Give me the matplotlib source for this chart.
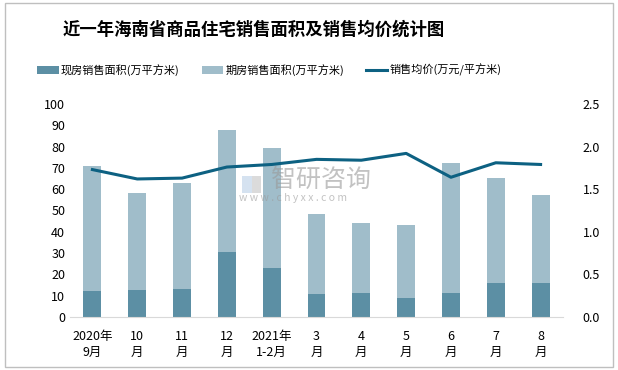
import matplotlib.pyplot as plt
import matplotlib.patches as patches
import numpy as np

plt.rcParams['font.family'] = ['Noto Sans CJK SC', 'DejaVu Sans']

# data
months = ['2020年\n9月', '10\n月', '11\n月', '12\n月', '2021年\n1-2月', '3\n月',
          '4\n月', '5\n月', '6\n月', '7\n月', '8\n月']
spot_area = [12.3, 12.8, 13.3, 30.6, 23.1, 10.9, 11.4, 9.0, 11.4, 16.1, 16.1]
total_area = [70.9, 58.3, 63.0, 87.8, 79.4, 48.4, 44.2, 43.3, 72.3, 65.3, 57.3]
presale_area = [t - s for t, s in zip(total_area, spot_area)]
avg_price = [1.73, 1.62, 1.63, 1.76, 1.79, 1.85, 1.84, 1.92, 1.64, 1.81, 1.79]

c_dark = '#5c8fa4'
c_light = '#a0bdca'
c_line = '#0d6182'

fig = plt.figure(figsize=(6.18, 3.70), dpi=100)
fig.patches.append(patches.Rectangle((0.008, 0.008), 0.984, 0.984, transform=fig.transFigure,
                                     fill=False, edgecolor='#bfbfbf', linewidth=1))

ax = fig.add_axes([0.1133, 0.1432, 0.7977, 0.5758])
x = np.arange(len(months))
ax.bar(x, spot_area, width=0.4, color=c_dark, label='现房销售面积(万平方米)', zorder=2)
ax.bar(x, presale_area, width=0.4, bottom=spot_area, color=c_light,
       label='期房销售面积(万平方米)', zorder=2)
ax.set_ylim(0, 100)
ax.set_yticks(range(0, 101, 10))
ax.set_xlim(-0.5, len(months) - 0.5)
ax.set_xticks(x)
ax.set_xticklabels(months, fontsize=9, linespacing=1.3)
for s in ['top', 'left', 'right']:
    ax.spines[s].set_visible(False)
ax.spines['bottom'].set_color('#d9d9d9')
ax.tick_params(axis='both', length=0, labelsize=9, colors='black')
ax.tick_params(axis='x', pad=9)

ax2 = ax.twinx()
ax2.plot(x, avg_price, color=c_line, linewidth=2.2, label='销售均价(万元/平方米)', zorder=3)
ax2.set_ylim(0, 2.5)
ax2.set_yticks(np.arange(0, 2.51, 0.5))
ax2.set_yticklabels([f'{v:.1f}' for v in np.arange(0, 2.51, 0.5)])
ax2.tick_params(axis='y', length=0, labelsize=9, pad=14)
for s in ax2.spines.values():
    s.set_visible(False)

# watermark, drawn over the bars
wm = dict(transform=fig.transFigure, edgecolor='none', zorder=5, alpha=0.6)
fig.add_artist(patches.Rectangle((0.391, 0.478), 0.016, 0.045, facecolor='#b9cfe6', **wm))
fig.add_artist(patches.Rectangle((0.407, 0.478), 0.016, 0.045, facecolor='#c4c4c4', **wm))
fig.text(0.438, 0.514, '智研咨询', fontsize=18, color='#9a9a9a', alpha=0.6, ha='left',
         va='center', zorder=5)
fig.text(0.386, 0.466, 'w w w . c h y x x . c o m', fontsize=7.5, color='#9a9a9a', alpha=0.6,
         ha='left', va='center', zorder=5)

fig.text(0.41, 0.919, '近一年海南省商品住宅销售面积及销售均价统计图', fontsize=12.5,
         fontweight='bold', ha='center', va='center')

h1, l1 = ax.get_legend_handles_labels()
h2, l2 = ax2.get_legend_handles_labels()
fig.legend(h1 + h2, l1 + l2, loc='center', bbox_to_anchor=(0.436, 0.81), ncol=3, frameon=False,
           fontsize=8, handlelength=1.9, handletextpad=0.2, columnspacing=2.0)

fig.savefig('out.png', dpi=100)
